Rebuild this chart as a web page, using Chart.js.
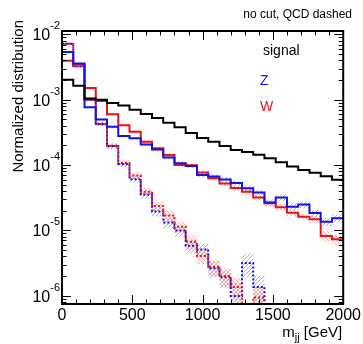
<!DOCTYPE html>
<html>
<head>
<meta charset="utf-8">
<script src="https://cdn.jsdelivr.net/npm/chart.js@4.4.1/dist/chart.umd.min.js"></script>
<style>
html, body { margin: 0; padding: 0; background: #fff; }
</style>
</head>
<body>
<canvas id="mjjChart" width="363" height="344"></canvas>
<script>
// m_jj bin edges [GeV], 80 GeV bins
var binEdges = [0, 80, 160, 240, 320, 400, 480, 560, 640, 720, 800, 880, 960, 1040,
                1120, 1200, 1280, 1360, 1440, 1520, 1600, 1680, 1760, 1840, 1920, 2000];

// normalized distributions (solid = EW, dashed = QCD)
var signal = [2.03e-3, 1.64e-3, 1.05e-3, 1.0e-3, 8.9e-4, 8.2e-4, 7.05e-4, 6.05e-4, 5.25e-4, 4.45e-4,
              3.8e-4, 3.1e-4, 2.6e-4, 2.28e-4, 1.96e-4, 1.7e-4, 1.59e-4, 1.44e-4, 1.27e-4, 1.1e-4,
              9.5e-5, 8.4e-5, 7.6e-5, 6.75e-5, 5.95e-5];
var zEW = [5.4e-3, 3.6e-3, 7.7e-4, 5.0e-4, 3.87e-4, 2.79e-4, 2.57e-4, 2.07e-4, 1.73e-4, 1.31e-4,
           1.07e-4, 9.7e-5, 7.05e-5, 6.7e-5, 6.0e-5, 5.3e-5, 4.4e-5, 3.8e-5, 2.67e-5, 3.2e-5,
           2.3e-5, 2.5e-5, 1.85e-5, 1.36e-5, 1.53e-5];
var wEW = [3.97e-3, 3.5e-3, 1.52e-3, 9.6e-4, 6.0e-4, 4.07e-4, 3.25e-4, 2.28e-4, 1.81e-4, 1.43e-4,
           1.0e-4, 9.9e-5, 7.7e-5, 6.3e-5, 5.2e-5, 4.46e-5, 3.92e-5, 3.2e-5, 2.6e-5, 2.26e-5,
           1.87e-5, 1.62e-5, 1.48e-5, 8.2e-6, 7.3e-6];
var zQCD = [7.2e-3, 3.26e-3, 1.0e-3, 4.26e-4, 1.96e-4, 1.04e-4, 6.07e-5, 3.55e-5, 1.95e-5, 1.32e-5,
            1.0e-5, 5.8e-6, 5.1e-6, 2.63e-6, 1.91e-6, 9.9e-7, 3.17e-6, 1.36e-6, 0, 0,
            0, 0, 0, 0, 0];
var wQCD = [7.2e-3, 3.26e-3, 1.0e-3, 4.26e-4, 1.96e-4, 1.08e-4, 6.93e-5, 3.92e-5, 2.37e-5, 1.69e-5,
            1.14e-5, 6.7e-6, 4.06e-6, 2.78e-6, 2.0e-6, 1.36e-6, 0, 9.4e-7, 0, 0,
            0, 0, 0, 0, 0];

// relative uncertainties (hatched bands)
var errSignal = [0.02, 0.02, 0.02, 0.02, 0.02, 0.02, 0.02, 0.02, 0.02, 0.02, 0.03, 0.03, 0.03,
                 0.03, 0.03, 0.03, 0.03, 0.03, 0.03, 0.03, 0.03, 0.03, 0.03, 0.03, 0.03];
var errZ = [0.03, 0.03, 0.04, 0.04, 0.05, 0.05, 0.05, 0.06, 0.06, 0.07, 0.07, 0.07, 0.08,
            0.08, 0.09, 0.09, 0.1, 0.1, 0.11, 0.11, 0.12, 0.12, 0.13, 0.14, 0.14];
var errW = [0.03, 0.03, 0.04, 0.04, 0.05, 0.05, 0.05, 0.06, 0.06, 0.07, 0.07, 0.07, 0.08,
            0.08, 0.09, 0.09, 0.1, 0.1, 0.11, 0.11, 0.12, 0.12, 0.13, 0.18, 0.18];
var errZq = [0.03, 0.04, 0.05, 0.07, 0.09, 0.1, 0.12, 0.14, 0.16, 0.18, 0.2, 0.25, 0.25,
             0.28, 0.3, 0.6, 0.4, 0.5, 0, 0, 0, 0, 0, 0, 0];
var errWq = [0.03, 0.04, 0.05, 0.07, 0.09, 0.1, 0.12, 0.14, 0.16, 0.18, 0.2, 0.25, 0.25,
             0.28, 0.3, 0.4, 0, 0.5, 0, 0, 0, 0, 0, 0, 0];

// axis ticks
var xMajor = [0, 500, 1000, 1500, 2000];
var xMinorStep = 100;
var yDecades = [-7, -6, -5, -4, -3, -2];
var yLabelDecades = [-6, -5, -4, -3, -2];

var FLOOR = 1e-9;
var FONT = '"Liberation Sans", Arial, Helvetica, sans-serif';
var BLUE = '#1414e6';
var RED = '#e6141c';

function histPoints(vals, err, sign) {
    var pts = [];
    for (var i = 0; i < vals.length; i++) {
        var v = vals[i];
        if (err) v = v * (1 + sign * err[i]);
        v = Math.max(v, FLOOR);
        pts.push({x: binEdges[i], y: v});
        pts.push({x: binEdges[i + 1], y: v});
    }
    return pts;
}

var canvas = document.getElementById('mjjChart');
var mainCtx = canvas.getContext('2d');

function hatch(color, dir) {
    var c = document.createElement('canvas');
    c.width = 4; c.height = 4;
    var g = c.getContext('2d');
    g.strokeStyle = color;
    g.lineWidth = 1;
    g.beginPath();
    if (dir > 0) {
        g.moveTo(-1, 5); g.lineTo(5, -1);
        g.moveTo(-1, 1); g.lineTo(1, -1);
        g.moveTo(3, 5); g.lineTo(5, 3);
    } else {
        g.moveTo(-1, -1); g.lineTo(5, 5);
        g.moveTo(-1, 3); g.lineTo(1, 5);
        g.moveTo(3, -1); g.lineTo(5, 1);
    }
    g.stroke();
    return mainCtx.createPattern(c, 'repeat');
}

var hatchGray = hatch('rgba(120,120,120,0.6)', 1);
var hatchBlue = hatch('rgba(90,100,230,0.55)', 1);
var hatchRed = hatch('rgba(235,110,110,0.55)', -1);

function band(vals, err, pattern, order) {
    return [
        {data: histPoints(vals, err, -1), borderColor: 'rgba(0,0,0,0)', borderWidth: 0, fill: false, order: order},
        {data: histPoints(vals, err, 1), borderColor: 'rgba(0,0,0,0)', borderWidth: 0, fill: '-1',
         backgroundColor: pattern, order: order}
    ];
}

var datasets = [].concat(
    band(zQCD, errZq, hatchBlue, 20),
    band(wQCD, errWq, hatchRed, 19),
    band(zEW, errZ, hatchBlue, 18),
    band(wEW, errW, hatchRed, 17),
    band(signal, errSignal, hatchGray, 16),
    [
        {label: 'Z QCD', data: histPoints(zQCD), borderColor: BLUE, borderWidth: 2, borderDash: [2, 2], order: 5},
        {label: 'W QCD', data: histPoints(wQCD), borderColor: RED, borderWidth: 2, borderDash: [2, 2],
         borderDashOffset: 2, order: 4},
        {label: 'W', data: histPoints(wEW), borderColor: RED, borderWidth: 2, order: 3},
        {label: 'Z', data: histPoints(zEW), borderColor: BLUE, borderWidth: 2, order: 2},
        {label: 'signal', data: histPoints(signal), borderColor: '#000', borderWidth: 2, order: 1}
    ]
);

// frame, inside ticks on all sides, y labels with exponents and texts
var rootStyle = {
    id: 'rootStyle',
    afterDraw: function(chart) {
        var ctx = chart.ctx, a = chart.chartArea;
        var xs = chart.scales.x, ys = chart.scales.y;
        ctx.save();
        ctx.strokeStyle = '#000';
        ctx.lineWidth = 1;
        ctx.beginPath();
        xs.ticks.forEach(function(t) {
            var px = Math.round(xs.getPixelForValue(t.value)) + 0.5;
            var len = xMajor.indexOf(t.value) >= 0 ? 9 : 4.5;
            ctx.moveTo(px, a.bottom); ctx.lineTo(px, a.bottom - len);
            ctx.moveTo(px, a.top); ctx.lineTo(px, a.top + len);
        });
        ys.ticks.forEach(function(t) {
            var py = Math.round(ys.getPixelForValue(t.value)) + 0.5;
            var lg = Math.log10(t.value);
            var len = Math.abs(lg - Math.round(lg)) < 1e-6 ? 9 : 4.5;
            ctx.moveTo(a.left, py); ctx.lineTo(a.left + len, py);
            ctx.moveTo(a.right, py); ctx.lineTo(a.right - len, py);
        });
        ctx.stroke();
        ctx.lineWidth = 2;
        ctx.strokeRect(a.left, a.top, a.right - a.left, a.bottom - a.top);

        // y tick labels: 10^n
        ctx.fillStyle = '#000';
        ctx.textBaseline = 'alphabetic';
        yLabelDecades.forEach(function(d) {
            var py = ys.getPixelForValue(Math.pow(10, d));
            var ex = String(d);
            ctx.font = '11px ' + FONT;
            var ew = ctx.measureText(ex).width;
            ctx.textAlign = 'left';
            ctx.fillText(ex, a.left - 2 - ew, py - 5);
            ctx.font = '16px ' + FONT;
            ctx.textAlign = 'right';
            ctx.fillText('10', a.left - 2 - ew, py + 6);
        });

        // y axis title
        ctx.save();
        ctx.translate(19, 20);
        ctx.rotate(-Math.PI / 2);
        ctx.font = '15px ' + FONT;
        ctx.textAlign = 'right';
        ctx.textBaseline = 'middle';
        ctx.fillText('Normalized distribution', 0, 0);
        ctx.restore();

        // x axis title m_jj [GeV]
        ctx.textAlign = 'left';
        ctx.font = '15px ' + FONT;
        var w1 = ctx.measureText('m').width, w3 = ctx.measureText(' [GeV]').width;
        ctx.font = '11px ' + FONT;
        var w2 = ctx.measureText('jj').width;
        var x0 = a.right - 1 - (w1 + w2 + w3);
        ctx.font = '15px ' + FONT;
        ctx.fillText('m', x0, 337);
        ctx.font = '11px ' + FONT;
        ctx.fillText('jj', x0 + w1, 341);
        ctx.font = '15px ' + FONT;
        ctx.fillText(' [GeV]', x0 + w1 + w2, 337);

        // header and labels
        ctx.font = '12px ' + FONT;
        ctx.textAlign = 'right';
        ctx.fillText('no cut, QCD dashed', 352, 18);
        ctx.textAlign = 'left';
        ctx.font = '14px ' + FONT;
        ctx.fillStyle = '#000';
        ctx.fillText('signal', 263, 55);
        ctx.fillStyle = BLUE;
        ctx.fillText('Z', 260, 85);
        ctx.fillStyle = RED;
        ctx.fillText('W', 260, 111);
        ctx.restore();
    }
};

var mjjChart = new Chart(canvas, {
    type: 'line',
    data: {datasets: datasets},
    options: {
        responsive: false,
        animation: false,
        devicePixelRatio: 1,
        layout: {padding: {top: 31, right: 17, left: 0, bottom: 0}},
        elements: {
            point: {radius: 0},
            line: {tension: 0, borderJoinStyle: 'miter', borderCapStyle: 'butt'}
        },
        plugins: {legend: {display: false}, tooltip: {enabled: false}},
        scales: {
            x: {
                type: 'linear',
                min: 0,
                max: 2000,
                grid: {display: false, drawTicks: false},
                border: {display: false},
                afterBuildTicks: function(scale) {
                    var t = [];
                    for (var v = 0; v <= 2000; v += xMinorStep) t.push({value: v});
                    scale.ticks = t;
                },
                afterFit: function(scale) { scale.height = 40; },
                ticks: {
                    autoSkip: false,
                    maxRotation: 0,
                    padding: 2,
                    color: '#000',
                    font: {family: FONT, size: 16},
                    callback: function(v) { return xMajor.indexOf(v) >= 0 ? String(v) : ''; }
                }
            },
            y: {
                type: 'logarithmic',
                min: 7.46e-7,
                max: 1.13e-2,
                grid: {display: false, drawTicks: false},
                border: {display: false},
                afterBuildTicks: function(scale) {
                    var t = [];
                    yDecades.forEach(function(d) {
                        for (var m = 1; m <= 9; m++) {
                            var v = m * Math.pow(10, d);
                            if (v >= scale.min && v <= scale.max) t.push({value: v});
                        }
                    });
                    scale.ticks = t;
                },
                afterFit: function(scale) { scale.width = 62; },
                ticks: {display: false, autoSkip: false}
            }
        }
    },
    plugins: [rootStyle]
});
</script>
</body>
</html>
